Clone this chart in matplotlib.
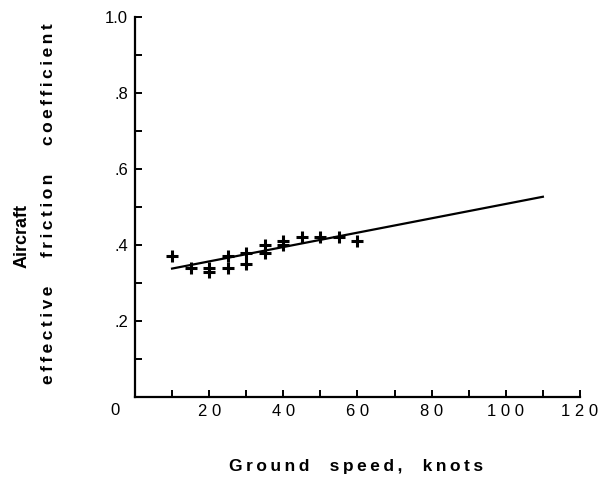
import matplotlib
matplotlib.use("Agg")
import matplotlib.pyplot as plt
from matplotlib.ticker import MultipleLocator

plt.rcParams['font.family'] = ['Liberation Sans', 'DejaVu Sans']

# Measured points: ground speed (knots) vs effective friction coefficient
speed = [10, 15, 20, 20, 25, 25, 30, 30, 35, 35, 40, 40, 45, 50, 55, 60]
friction = [0.37, 0.34, 0.34, 0.33, 0.37, 0.34, 0.38, 0.35, 0.40, 0.38,
            0.41, 0.40, 0.42, 0.42, 0.42, 0.41]

# Fitted line end points
fit_speed = [10, 110]
fit_friction = [0.338, 0.527]

x_ticks = [20, 40, 60, 80, 100, 120]
x_tick_labels = ["2 0", "4 0", "6 0", "8 0", "1 0 0", "1 2 0"]
y_ticks = [0.2, 0.4, 0.6, 0.8, 1.0]
y_tick_labels = [".2", ".4", ".6", ".8", "1.0"]


def tracked(text, sep="\u2009"):
    """Widen letter spacing by slipping a narrow space between characters."""
    return sep.join(text)


fig = plt.figure(figsize=(6.01, 4.82), dpi=100)
ax = fig.add_axes([0.2246, 0.1763, 0.7404, 0.7884])

ax.plot(fit_speed, fit_friction, color='black', lw=1.6)
ax.plot(speed, friction, linestyle='none', marker='+', color='black',
        markersize=8, markeredgewidth=2.2)

ax.set_xlim(0, 120)
ax.set_ylim(0, 1.0)

for side in ('top', 'right'):
    ax.spines[side].set_visible(False)
for side in ('left', 'bottom'):
    ax.spines[side].set_linewidth(1.6)

ax.set_xticks(x_ticks)
ax.set_xticklabels(x_tick_labels, fontsize=12)
ax.xaxis.set_minor_locator(MultipleLocator(10))
ax.set_yticks(y_ticks)
ax.set_yticklabels(y_tick_labels, fontsize=12)
ax.yaxis.set_minor_locator(MultipleLocator(0.1))
ax.tick_params(which='both', direction='in', length=5, width=1.4)
ax.tick_params(axis='x', pad=5)
ax.tick_params(axis='y', pad=5)

# origin label sits below and left of the corner
ax.annotate("0", xy=(0, 0), xycoords='data', xytext=(-14.5, -9.5),
            textcoords='offset points', ha='center', va='center', fontsize=12)

fig.text(0.592, 0.033, tracked("Ground  speed,  knots"), ha='center',
         va='center', fontsize=12.5, fontweight='bold')
fig.text(0.036, 0.510, "Aircraft", rotation=90,
         ha='center', va='center', fontsize=13, fontweight='bold')
fig.text(0.081, 0.577, tracked("effective   friction   coefficient"),
         rotation=90, ha='center', va='center', fontsize=12.5,
         fontweight='bold')

fig.savefig("out.png", dpi=100)
